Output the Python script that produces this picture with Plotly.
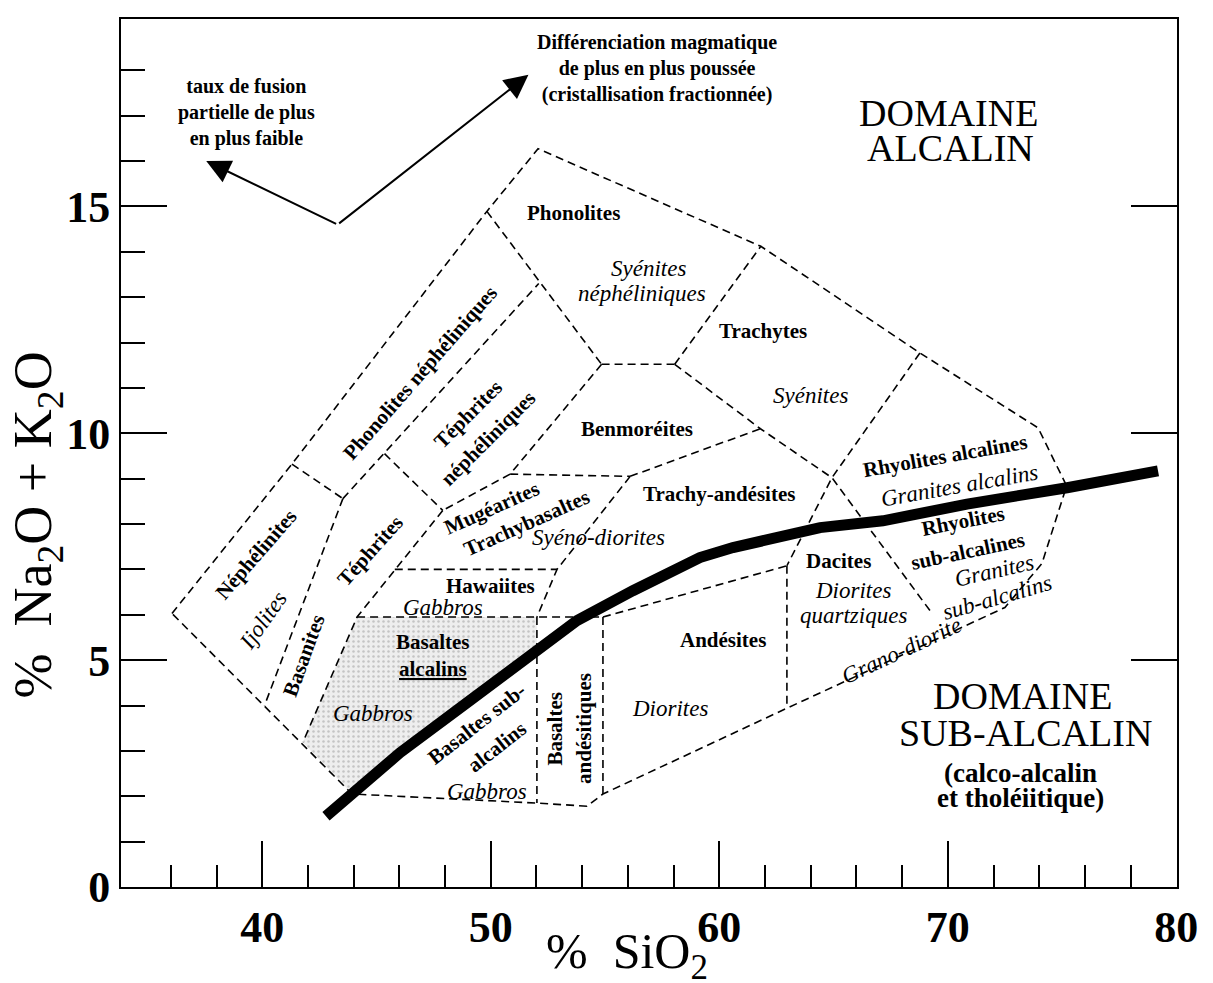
import plotly.graph_objects as go

FONT = "Liberation Serif"

# outer limit of the classification field (SiO2 %, Na2O+K2O %)
outline_sio2 = [36.05, 41.3, 49.83, 52.07, 61.82, 68.78, 73.95, 75.2, 74.12, 72.5,
                62.96, 54.91, 54.21, 52.02, 43.93, 36.05]
outline_alk = [6.03, 9.32, 14.89, 16.27, 14.12, 11.77, 10.12, 8.84, 7.13, 6.16,
               3.94, 2.05, 1.78, 1.85, 2.05, 6.03]

# internal field boundaries, one polyline per list
boundaries = [
    [(41.3, 9.32), (43.53, 8.56)],
    [(43.53, 8.56), (40.1, 4.0)],
    [(43.53, 8.56), (52.1, 13.3)],
    [(49.83, 14.89), (54.85, 11.52)],
    [(54.85, 11.52), (58.05, 11.52)],
    [(54.85, 11.52), (50.85, 9.1), (47.9, 8.3)],
    [(45.35, 9.55), (47.9, 8.3)],
    [(47.9, 8.3), (44.15, 5.95), (41.78, 3.19)],
    [(50.85, 9.1), (56.1, 9.05)],
    [(56.1, 9.05), (61.8, 10.1)],
    [(56.1, 9.05), (52.9, 7.0), (52.02, 5.95)],
    [(45.8, 7.0), (52.9, 7.0)],
    [(44.15, 5.95), (54.91, 5.95)],
    [(52.02, 5.95), (52.02, 1.85)],
    [(54.91, 5.95), (54.91, 2.05)],
    [(54.91, 5.95), (62.96, 7.08)],
    [(62.96, 7.08), (62.96, 3.94)],
    [(58.05, 11.52), (61.82, 14.12)],
    [(58.05, 11.52), (61.8, 10.1), (64.93, 9.02), (69.31, 6.03)],
    [(68.78, 11.77), (64.93, 9.02), (62.96, 7.08)],
]

# alkaline / sub-alkaline divide
divide_sio2 = [42.79, 46.03, 49.09, 52.46, 53.77, 56.22, 59.15, 60.6, 64.41, 67.16, 70.84, 75.22, 79.2]
divide_alk = [1.56, 2.96, 4.11, 5.43, 5.87, 6.53, 7.26, 7.48, 7.92, 8.07, 8.44, 8.8, 9.17]

# shaded alkali basalt field
shade_sio2 = [44.15, 52.02, 52.02, 49.09, 46.03, 43.93, 41.78, 44.15]
shade_alk = [5.95, 5.95, 5.26, 4.11, 2.96, 2.05, 3.19, 5.95]

# arrows: common origin and two tips
arrow_origin = (43.3, 14.6)
arrow_tips = [(37.55, 16.0), (51.65, 17.9)]

# field names: text, SiO2, alkalis, angle
bold_labels = [
    ("Phonolites", 53.6, 14.85, 0),
    ("Trachytes", 61.9, 12.25, 0),
    ("Benmoréites", 56.4, 10.1, 0),
    ("Trachy-andésites", 60.0, 8.66, 0),
    ("Hawaiites", 50.0, 6.64, 0),
    ("Basaltes", 47.48, 5.39, 0),
    ("<u>alcalins</u>", 47.48, 4.81, 0),
    ("Andésites", 60.17, 5.45, 0),
    ("Dacites", 65.21, 7.19, 0),
    ("Mugéarites", 50.04, 8.36, -24),
    ("Trachybasaltes", 51.57, 8.03, -24),
    ("Basaltes sub-", 49.38, 3.6, -38),
    ("alcalins", 50.26, 3.09, -38),
    ("Basaltes", 52.81, 3.49, -90),
    ("andésitiques", 54.05, 3.49, -90),
    ("Rhyolites alcalines", 69.88, 9.5, -10),
    ("Rhyolites", 70.68, 8.07, -11),
    ("sub-alcalines", 70.9, 7.41, -12),
    ("Phonolites néphéliniques", 46.9, 11.33, -49),
    ("Téphrites", 49.02, 10.42, -45),
    ("néphéliniques", 49.89, 9.9, -45),
    ("Téphrites", 44.71, 7.41, -48),
    ("Basanites", 41.8, 5.1, -70),
    ("Néphélinites", 39.75, 7.33, -49),
]
italic_labels = [
    ("Syénites", 56.89, 13.64, 0),
    ("néphéliniques", 56.6, 13.07, 0),
    ("Syénites", 64.01, 10.84, 0),
    ("Syéno-diorites", 54.7, 7.7, 0),
    ("Gabbros", 47.92, 6.16, 0),
    ("Gabbros", 44.86, 3.82, 0),
    ("Gabbros", 49.82, 2.1, 0),
    ("Diorites", 57.84, 3.93, 0),
    ("Diorites", 65.86, 6.53, 0),
    ("quartziques", 65.86, 5.98, 0),
    ("Granites alcalins", 70.53, 8.84, -10),
    ("Granites", 72.06, 6.97, -13),
    ("sub-alcalins", 72.14, 6.38, -16),
    ("Grano-diorite", 67.98, 5.21, -25),
    ("Ijolites", 40.04, 5.87, -55),
]

# flatten the boundary polylines with gaps
seg_x, seg_y = list(outline_sio2) + [None], list(outline_alk) + [None]
for line in boundaries:
    seg_x += [p[0] for p in line] + [None]
    seg_y += [p[1] for p in line] + [None]

fig = go.Figure()

fig.add_trace(go.Scatter(
    x=shade_sio2, y=shade_alk, mode="lines", fill="toself",
    line=dict(width=0), fillcolor="#eeeeee",
    fillpattern=dict(shape=".", bgcolor="#eeeeee", fgcolor="#9a9a9a", size=5, solidity=0.2),
    hoverinfo="skip", showlegend=False,
))
fig.add_trace(go.Scatter(
    x=seg_x, y=seg_y, mode="lines",
    line=dict(color="black", width=1.6, dash="8px,5px"),
    hoverinfo="skip", showlegend=False,
))
fig.add_trace(go.Scatter(
    x=divide_sio2, y=divide_alk, mode="lines",
    line=dict(color="black", width=11),
    hoverinfo="skip", showlegend=False,
))
# invisible trace so the right-hand tick axis is drawn
fig.add_trace(go.Scatter(x=[40], y=[0], yaxis="y2", mode="markers",
                         marker=dict(opacity=0), hoverinfo="skip", showlegend=False))


def note(x, y, text, size, angle=0, ref="data"):
    kw = dict(xref="paper", yref="paper") if ref == "paper" else {}
    fig.add_annotation(x=x, y=y, text=text, showarrow=False, textangle=angle,
                       xanchor="center", yanchor="middle",
                       font=dict(family=FONT, size=size, color="black"), **kw)


for text, x, y, ang in bold_labels:
    note(x, y, "<b>" + text + "</b>", 21, ang)
for text, x, y, ang in italic_labels:
    note(x, y, "<i>" + text + "</i>", 23, ang)

for tx, ty in arrow_tips:
    fig.add_annotation(x=tx, y=ty, ax=arrow_origin[0], ay=arrow_origin[1],
                       xref="x", yref="y", axref="x", ayref="y", text="",
                       showarrow=True, arrowhead=2, arrowsize=2.4, arrowwidth=2, arrowcolor="black")

note(39.29, 17.06, "<b>taux de fusion<br>partielle de plus<br>en plus faible</b>", 20)
note(57.26, 18.04,
     "<b>Différenciation magmatique<br>de plus en plus poussée<br>(cristallisation fractionnée)</b>", 20)

note(70.05, 17.05, "DOMAINE", 38)
note(70.1, 16.28, "ALCALIN", 38)
note(73.29, 4.22, "DOMAINE", 38)
note(73.42, 3.4, "SUB-ALCALIN", 38)
note(73.2, 2.51, "<b>(calco-alcalin</b>", 27)
note(73.2, 1.97, "<b>et tholéiitique)</b>", 27)

# axis titles
note(-0.08, 0.417, "%  Na<sub>2</sub>O + K<sub>2</sub>O", 54, -90, ref="paper")
note(0.479, -0.078, "%  SiO<sub>2</sub>", 50, ref="paper")

tick_font = dict(family=FONT, size=44, color="black", weight="bold")

fig.update_layout(
    width=1205, height=975,
    margin=dict(l=113, r=36, t=9, b=96),
    paper_bgcolor="white", plot_bgcolor="white",
    showlegend=False,
    xaxis=dict(
        range=[33.82, 80.03], showgrid=False, zeroline=False,
        showline=True, linecolor="black", linewidth=2, mirror=True,
        tickmode="array", tickvals=[40, 50, 60, 70, 80],
        ticks="inside", ticklen=46, tickwidth=2, tickcolor="black",
        tickfont=tick_font,
        minor=dict(tickmode="array", tickvals=[36, 38, 42, 44, 46, 48, 52, 54, 56, 58,
                                               62, 64, 66, 68, 72, 74, 76, 78],
                   ticks="inside", ticklen=22, tickwidth=1.5, tickcolor="black", showgrid=False),
    ),
    yaxis=dict(
        range=[0, 19.13], showgrid=False, zeroline=False,
        showline=True, linecolor="black", linewidth=2,
        tickmode="array", tickvals=[0, 5, 10, 15],
        ticks="inside", ticklen=46, tickwidth=2, tickcolor="black",
        tickfont=tick_font,
        minor=dict(tickmode="array", tickvals=[1, 2, 3, 4, 6, 7, 8, 9, 11, 12, 13, 14, 16, 17, 18],
                   ticks="inside", ticklen=24, tickwidth=1.5, tickcolor="black", showgrid=False),
    ),
    yaxis2=dict(
        range=[0, 19.13], overlaying="y", side="right", showgrid=False, zeroline=False,
        showline=True, linecolor="black", linewidth=2,
        tickmode="array", tickvals=[5, 10, 15], showticklabels=False,
        ticks="inside", ticklen=46, tickwidth=2, tickcolor="black",
    ),
)

fig.write_html("out.html")
